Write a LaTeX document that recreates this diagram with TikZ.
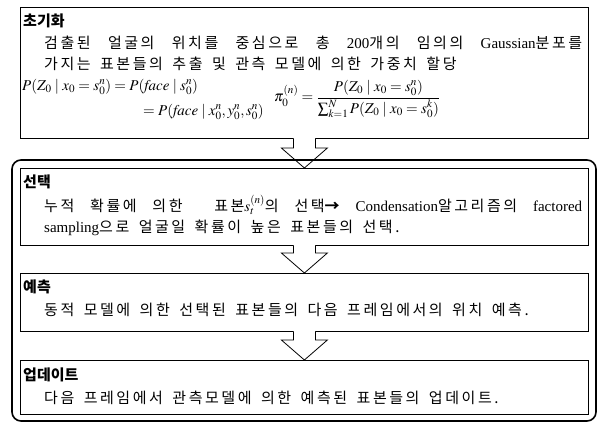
\documentclass[tikz,border=0pt]{standalone}
\usepackage{mathptmx}
\usepackage{fontspec}
\setmainfont{Liberation Serif}
\newfontfamily\kr[LetterSpace=17, WordSpace=1.6]{Noto Sans CJK KR}
\newfontfamily\krhead{Noto Sans CJK KR}
\usetikzlibrary{calc}

\newcommand{\figsize}{\fontsize{15}{18}\selectfont}

% open block arrow from the bottom of one box to the top of the next
\newcommand{\flowarrow}[2]{%
  \fill[white] ($(#1)+(-11,-1)$) -- ($(#2)+(-11,-20)$) -- ($(#2)+(-23,-20)$)
    -- (#2) -- ($(#2)+(23,-20)$) -- ($(#2)+(11,-20)$) -- ($(#1)+(11,-1)$) -- cycle;
  \draw[flow] ($(#1)+(-11,-0.4)$) -- ($(#2)+(-11,-20)$) -- ($(#2)+(-23,-20)$)
    -- (#2) -- ($(#2)+(23,-20)$) -- ($(#2)+(11,-20)$) -- ($(#1)+(11,-0.4)$);
}

\tikzset{
  box/.style={draw, line width=0.8pt, inner sep=0pt, anchor=north west, minimum width=568pt},
  head/.style={anchor=west, inner sep=0pt, font=\figsize\krhead\bfseries},
  body/.style={anchor=west, inner sep=0pt, font=\figsize\kr},
  eqn/.style={anchor=west, inner sep=0pt, font=\figsize},
  flow/.style={line width=0.8pt, line join=miter},
  frame/.style={draw, line width=1.6pt, rounded corners=9pt},
}

\begin{document}
\begin{tikzpicture}[x=1pt, y=-1pt]

  \useasboundingbox (0,0) rectangle (598,425);
  \fill[white] (0,0) rectangle (598,425);

  % -------------------------------------------------------
  % Boxes
  % -------------------------------------------------------
  \node[box, minimum height=131pt] (init)    at (20,7)   {};
  \node[box, minimum height=77pt]  (select)  at (20,168) {};
  \node[box, minimum height=58pt]  (predict) at (20,273) {};
  \node[box, minimum height=54pt]  (update)  at (20,360) {};

  % -------------------------------------------------------
  % Initialisation
  % -------------------------------------------------------
  \node[head] (t-init) at (23,21) {초기화};
  \node[body] (l-init-a) at (44,43)
    {\makebox[538pt][s]{검출된 얼굴의 위치를 중심으로 총 {\rmfamily 200}개의 임의의 {\rmfamily Gaussian}분포를}};
  \node[body] (l-init-b) at (44,64)
    {가지는 표본들의 추출 및 관측 모델에 의한 가중치 할당};

  % observation model and weights
  \node[eqn] (eq-obs) at (22,87)
    {$P(Z_0\mid x_0=s_0^n)=P(\mathit{face}\mid s_0^n)$};
  \node[eqn] (eq-obs-b) at (143,112)
    {$=P(\mathit{face}\mid x_0^n,y_0^n,s_0^n)$};
  \node[eqn] (eq-wt) at (274,99)
    {$\displaystyle \pi_0^{(n)}=\frac{P(Z_0\mid x_0=s_0^n)}{\sum_{k=1}^{N}P(Z_0\mid x_0=s_0^k)}$};

  % -------------------------------------------------------
  % Selection
  % -------------------------------------------------------
  \node[head] (t-select) at (23,182) {선택};
  \node[body] (l-select-a) at (44,205)
    {\makebox[538pt][s]{누적 확률에 의한 \ 표본$s_t^{(n)}$의 선택{\bfseries →} {\rmfamily Condensation}알고리즘의 {\rmfamily factored}}};
  \node[body] (l-select-b) at (44,228)
    {{\rmfamily sampling}으로 얼굴일 확률이 높은 표본들의 선택.};

  % -------------------------------------------------------
  % Prediction
  % -------------------------------------------------------
  \node[head] (t-predict) at (23,287) {예측};
  \node[body] (l-predict) at (44,310)
    {동적 모델에 의한 선택된 표본들의 다음 프레임에서의 위치 예측.};

  % -------------------------------------------------------
  % Update
  % -------------------------------------------------------
  \node[head] (t-update) at (23,375) {업데이트};
  \node[body] (l-update) at (44,398)
    {다음 프레임에서 관측모델에 의한 예측된 표본들의 업데이트.};

  % Block arrows between the steps
  \flowarrow{init.south}{select.north}
  \flowarrow{select.south}{predict.north}
  \flowarrow{predict.south}{update.north}

  % Rounded frame round the tracking loop
  \draw[frame] (12,160) rectangle (596,421);

\end{tikzpicture}
\end{document}
